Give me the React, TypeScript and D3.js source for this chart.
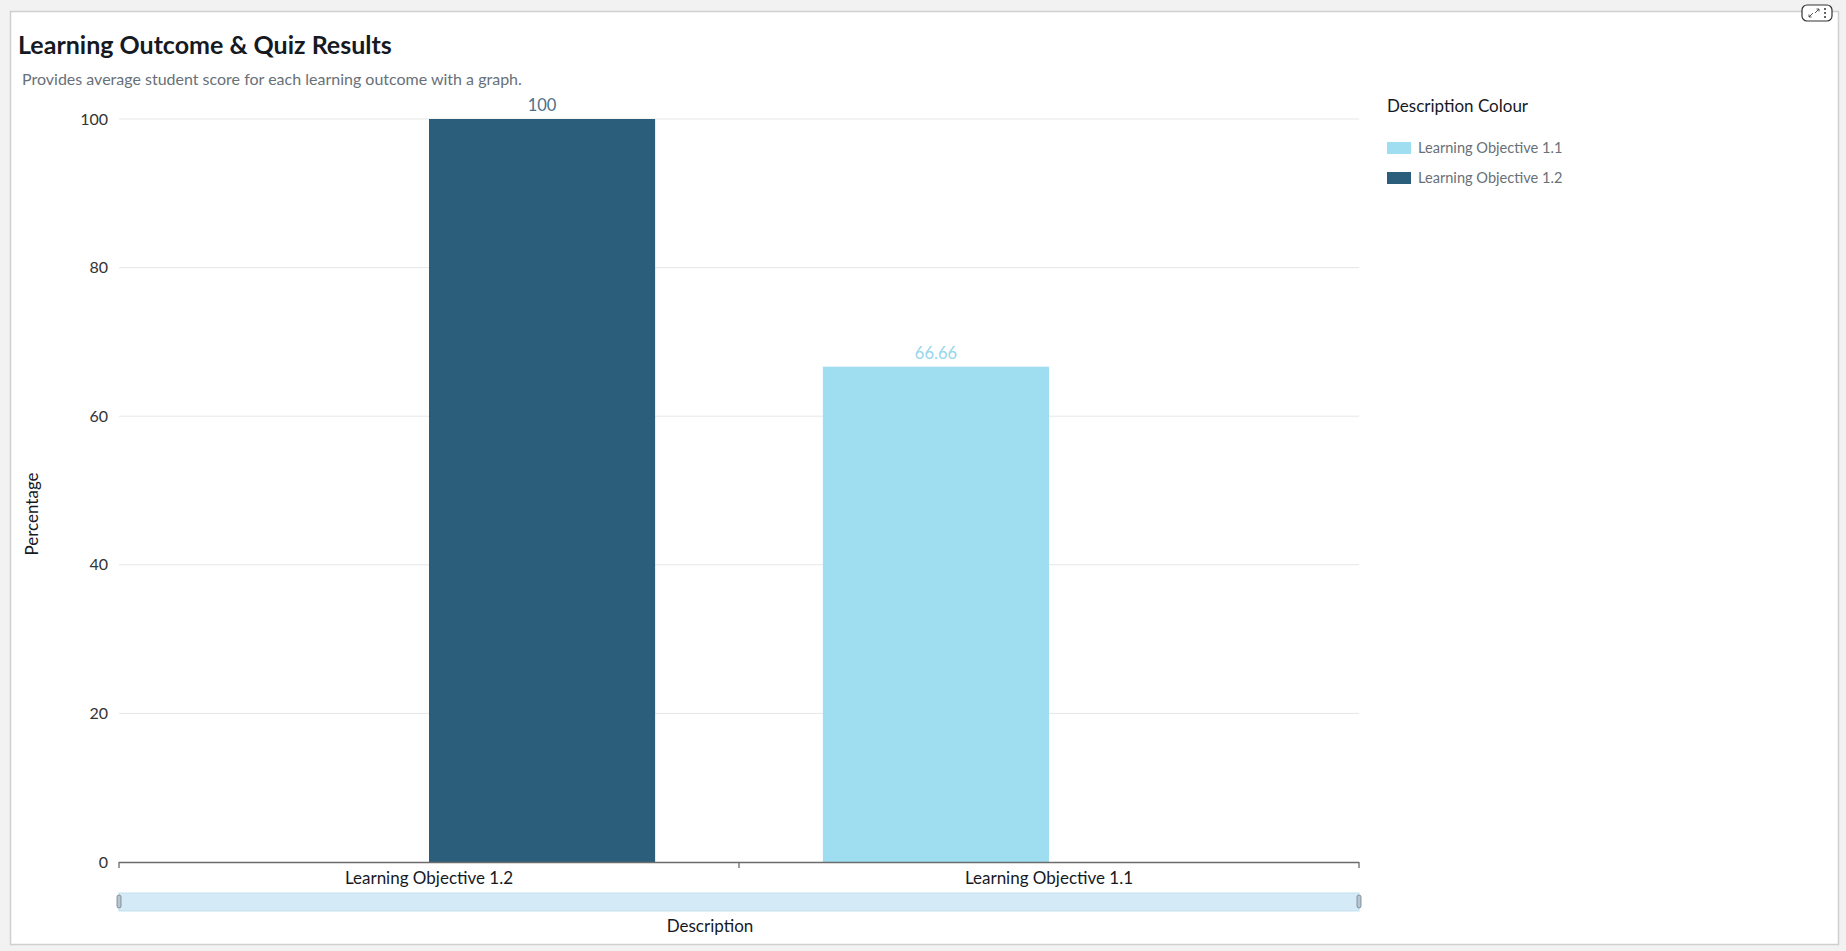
import React from 'react';
import * as d3 from 'd3';

// chart values
const categories: string[] = ['Learning Objective 1.2', 'Learning Objective 1.1'];
const colourSeries: string[] = ['Learning Objective 1.1', 'Learning Objective 1.2'];
const percentages: number[] = [100, 66.66];
const yTicks: number[] = [0, 20, 40, 60, 80, 100];
const seriesColours: string[] = ['#9fddf0', '#2b5e7a'];
const labelColours: string[] = ['#95d6ec', '#4d6f87'];

const WIDTH = 1846;
const HEIGHT = 951;
const FONT = 'Lato, "Noto Sans", sans-serif';

const plot = { left: 119, right: 1359, top: 119, bottom: 862 };

function App() {
    const y: d3.ScaleLinear<number, number> = d3.scaleLinear()
        .domain([0, 100])
        .range([plot.bottom, plot.top]);

    const x0: d3.ScaleBand<string> = d3.scaleBand<string>()
        .domain(categories)
        .range([plot.left, plot.right])
        .padding(0);

    const x1: d3.ScaleBand<string> = d3.scaleBand<string>()
        .domain(colourSeries)
        .range([0, x0.bandwidth()])
        .paddingInner(0)
        .paddingOuter(0.371);

    const colour: d3.ScaleOrdinal<string, string> = d3.scaleOrdinal<string, string>()
        .domain(colourSeries)
        .range(seriesColours);

    const labelColour: d3.ScaleOrdinal<string, string> = d3.scaleOrdinal<string, string>()
        .domain(colourSeries)
        .range(labelColours);

    const bandEdges: number[] = [...categories.map(c => x0(c) as number), plot.right];

    return (
        <svg width={WIDTH} height={HEIGHT} style={{ position: 'absolute', left: 0, top: 0 }} fontFamily={FONT}>
            <rect x={0} y={0} width={WIDTH} height={HEIGHT} fill="#f2f2f2" />
            <rect x={10.5} y={11.5} width={1828} height={933} fill="#fff" stroke="#cfcfcf" strokeWidth={1.5} />

            {/* top right buttons */}
            <rect x={1802} y={5} width={30} height={16} rx={5} fill="#fff" stroke="#333" strokeWidth={1.2} />
            <path d="M1809,17 l4,-4 M1809,17 v-2.5 M1809,17 h2.5 M1819,9 l-4,4 M1819,9 v2.5 M1819,9 h-2.5" stroke="#444" strokeWidth={0.9} fill="none" />
            <circle cx={1825} cy={9} r={1} fill="#333" />
            <circle cx={1825} cy={13} r={1} fill="#333" />
            <circle cx={1825} cy={17} r={1} fill="#333" />

            <text x={18} y={54} fontSize={25} fontWeight="bold" fill="#16191f">Learning Outcome &amp; Quiz Results</text>
            <text x={22} y={85} fontSize={16} fill="#687078">Provides average student score for each learning outcome with a graph.</text>

            {/* grid + y axis */}
            {yTicks.map(t => (
                <g key={t}>
                    {t > 0 && <line x1={plot.left} x2={plot.right} y1={y(t)} y2={y(t)} stroke="#e6e6e6" strokeWidth={1} />}
                    <text x={108} y={y(t)} dy="0.35em" textAnchor="end" fontSize={16} fill="#333">{t}</text>
                </g>
            ))}
            <text transform="translate(38, 514) rotate(-90)" textAnchor="middle" fontSize={17} fill="#16191f">Percentage</text>

            {/* bars */}
            {categories.map((c, i) => {
                const bx = (x0(c) as number) + (x1(c) as number);
                const bw = x1.bandwidth();
                return (
                    <g key={c}>
                        <rect x={bx} y={y(percentages[i])} width={bw} height={plot.bottom - y(percentages[i])} fill={colour(c)} />
                        <text x={bx + bw / 2} y={y(percentages[i]) - 8} textAnchor="middle" fontSize={16.5} fill={labelColour(c)}>{percentages[i]}</text>
                    </g>
                );
            })}

            {/* x axis */}
            <line x1={plot.left} x2={plot.right} y1={plot.bottom + 0.5} y2={plot.bottom + 0.5} stroke="#6b6b6b" strokeWidth={1.3} />
            {bandEdges.map((e, i) => (
                <line key={i} x1={e} x2={e} y1={plot.bottom} y2={plot.bottom + 6} stroke="#6b6b6b" strokeWidth={1.3} />
            ))}
            {categories.map(c => (
                <text key={c} x={(x0(c) as number) + x0.bandwidth() / 2} y={884} textAnchor="middle" fontSize={17} fill="#16191f">{c}</text>
            ))}

            {/* scroll bar */}
            <rect x={plot.left} y={893} width={plot.right - plot.left} height={18} fill="#d4eaf7" stroke="#c3dfef" strokeWidth={1} />
            <rect x={plot.left - 2} y={895} width={4} height={13} rx={2} fill="#b7c6d0" stroke="#6f7f8a" strokeWidth={0.8} />
            <rect x={plot.right - 2} y={895} width={4} height={13} rx={2} fill="#b7c6d0" stroke="#6f7f8a" strokeWidth={0.8} />

            <text x={710} y={932} textAnchor="middle" fontSize={17} fill="#16191f">Description</text>

            {/* legend */}
            <text x={1387} y={112} fontSize={17} fill="#16191f">Description Colour</text>
            {colourSeries.map((s, i) => (
                <g key={s} transform={`translate(1387, ${142 + i * 30})`}>
                    <rect x={0} y={0} width={24} height={12} fill={colour(s)} />
                    <text x={31} y={6} dy="0.35em" fontSize={14.6} fill="#687078">{s}</text>
                </g>
            ))}
        </svg>
    );
}

export default App;
